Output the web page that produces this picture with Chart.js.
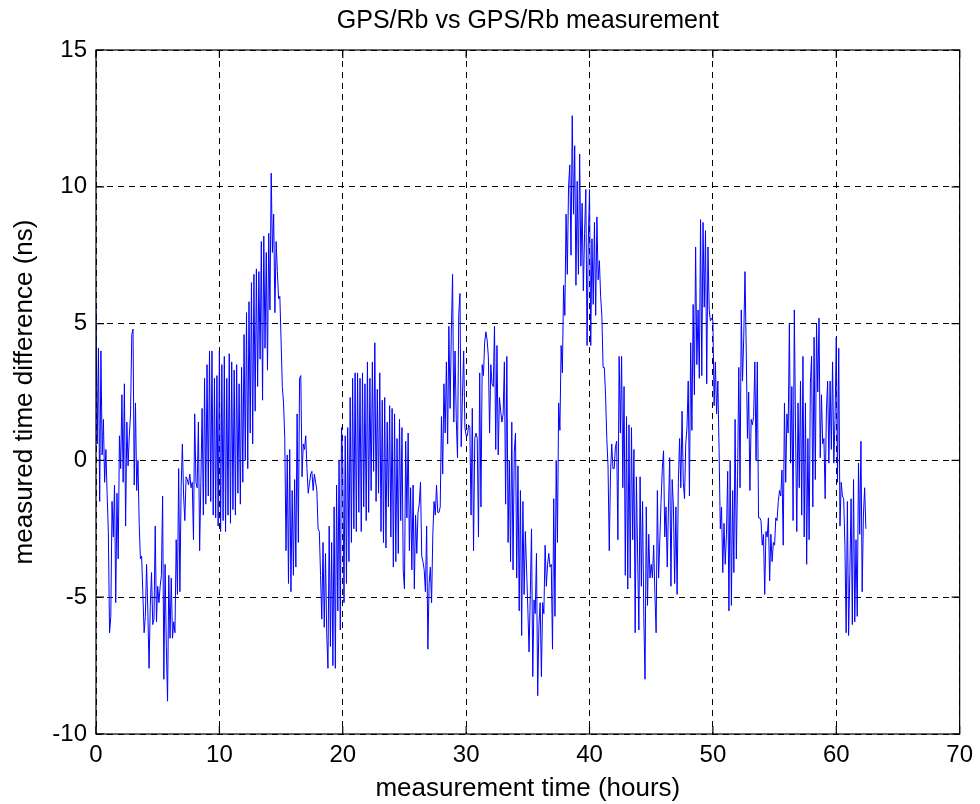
<!DOCTYPE html>
<html>
<head>
<meta charset="utf-8">
<script src="https://cdn.jsdelivr.net/npm/chart.js@4.4.0/dist/chart.umd.min.js"></script>
<style>
  html, body { margin: 0; padding: 0; background: #fff; }
  canvas { display: block; }
</style>
</head>
<body>
<canvas id="grafico" width="980" height="804"></canvas>
<script>
const titulo = 'GPS/Rb vs GPS/Rb measurement';
const rotuloX = 'measurement time (hours)';
const rotuloY = 'measured time difference (ns)';
const ticksX = [0, 10, 20, 30, 40, 50, 60, 70];
const ticksY = [-10, -5, 0, 5, 10, 15];

// uma amostra a cada 0.1 h, uma linha por hora
const passoHoras = 0.1;
const diferencaNs = [
  5.5, 0.6, 4.1, -1.5, 4.0, 0.2, 1.5, -0.8, 0.4, -1.2,
  -2.6, -6.3, -5.7, -1.5, -2.8, -0.9, -5.2, -1.2, -3.6, 0.9,
  -0.3, 2.4, -0.8, 2.8, -2.4, 1.4, -0.2, 0.9, 1.7, 4.6,
  4.8, -0.9, 2.1, -1.1, 0.0, -2.3, -3.6, -3.5, -4.9, -6.3,
  -5.7, -3.8, -5.5, -7.6, -5.3, -4.1, -6.0, -5.8, -2.4, -5.9,
  -4.6, -5.2, -4.6, -4.2, -1.3, -8.0, -3.8, -6.8, -8.8, -4.2,
  -6.5, -4.3, -6.5, -5.9, -6.3, -2.9, -4.9, -0.3, -4.8, -1.0,
  0.6, -1.3, -2.2, -0.6, -0.7, -0.9, -0.5, -1.0, -0.8, -2.9,
  1.7, -0.8, -1.0, 1.4, -3.3, -0.8, 1.9, -2.0, 3.0, -1.6,
  3.5, -1.3, 4.0, -1.5, 4.0, -2.0, 3.0, -2.1, 3.1, -2.4,
  4.0, -2.6, 3.5, -2.2, 3.8, -2.6, 3.0, -2.0, 3.9, -2.3,
  3.6, -1.8, 3.3, -2.0, 3.5, -1.2, 2.8, -1.6, 3.4, -0.8,
  4.6, 0.0, 5.4, -0.3, 5.8, 1.0, 6.5, 0.6, 6.8, 1.8,
  7.0, 2.7, 6.9, 3.7, 8.0, 2.2, 8.2, 4.1, 7.6, 3.3,
  8.3, 5.5, 10.5, 7.6, 9.0, 5.4, 8.0, 6.9, 5.9, 6.0,
  4.4, 2.7, 2.1, 0.8, -3.3, 0.2, -4.5, 0.4, -4.8, -1.1,
  -4.2, -0.7, -3.9, 1.7, -3.0, 3.0, 3.1, -0.6, 0.6, 0.4,
  0.9, -0.3, -1.2, -0.85, -0.5, -0.4, -1.1, -0.5, -0.8, -1.1,
  -2.5, -2.6, -4.2, -5.8, -3.0, -6.1, -3.4, -6.3, -7.6, -2.4,
  -6.8, -3.0, -7.5, -1.7, -7.6, -0.9, -5.5, 0.0, -6.2, 1.2,
  -0.2, -5.2, 0.9, -4.5, 1.2, -3.7, 2.3, -3.0, 3.0, -2.5,
  3.2, -2.6, 3.2, -1.9, 3.0, -2.6, 3.2, -1.7, 2.8, -2.2,
  3.6, -1.9, 3.0, -1.1, 3.6, -0.4, 4.3, -1.5, 2.6, -1.2,
  3.2, -2.6, 2.2, -3.0, 2.3, -3.2, 1.4, -1.7, 2.0, -2.8,
  1.9, -3.9, 1.7, -3.7, 0.8, -3.4, 1.5, -2.2, 1.2, -4.0,
  -4.7, 0.7, -2.1, 1.0, -3.3, -1.0, -4.0, -0.9, -4.7, -2.0,
  -3.4, -1.9, -1.6, -0.8, -3.5, -3.7, -4.0, -4.8, -2.4, -6.9,
  -4.5, -3.9, -5.2, -2.7, -1.5, -2.0, -0.9, -1.9, -1.9, -1.7,
  1.6, -0.5, 2.8, 1.0, 3.6, 0.6, 4.9, 1.9, 4.7, 6.8,
  1.4, 4.0, 1.5, 0.1, 5.3, 6.1, 0.5, 2.3, 4.0, 1.2,
  0.9, 0.9, 1.3, 1.2, -2.0, 1.9, -3.3, 0.8, 1.0, 0.8,
  -2.8, 3.2, -1.7, 3.5, 3.1, 4.3, 4.7, 4.4, 3.8, 1.0,
  3.5, 2.8, 2.7, 4.9, 0.4, 4.2, 0.2, 2.3, 1.8, 1.4,
  1.7, 3.6, -1.6, 3.8, -3.0, 0.0, -3.7, 1.4, -4.0, 0.3,
  1.0, -4.3, -0.2, -5.5, -1.1, -6.4, -1.5, -4.9, -2.6, -4.0,
  -5.4, -7.0, -4.9, -2.5, -7.9, -5.1, -5.6, -3.4, -8.6, -6.0,
  -5.2, -7.9, -5.2, -5.6, -3.1, -4.6, -3.8, -3.4, -3.9, -3.8,
  -6.9, -1.4, -5.7, 0.0, -3.0, 2.1, 1.1, 4.2, 3.2, 6.4,
  5.3, 9.0, 6.8, 10.0, 10.8, 7.5, 12.6, 9.0, 11.5, 6.4,
  10.2, 6.8, 11.2, 7.1, 9.4, 6.2, 8.3, 9.9, 4.2, 8.0,
  9.9, 4.2, 8.1, 5.7, 8.7, 5.3, 8.9, 6.6, 7.3, 6.0,
  5.3, 3.4, 3.4, 2.4, 0.8, -0.2, -3.3, -0.5, 0.6, -0.3,
  -0.3, 0.5, 0.7, -2.9, 3.8, 1.0, 3.8, -1.0, 2.7, -4.2,
  1.6, -4.7, 1.3, -4.3, 1.2, -2.9, 0.4, -6.3, -0.6, -3.5,
  -6.2, -0.6, -4.6, -1.5, -5.7, -8.0, -1.7, -5.3, -2.7, -4.3,
  -3.8, -4.3, -3.1, -4.9, -6.3, -1.1, -4.3, -2.9, -1.5, -0.3,
  0.35, -2.8, -1.7, -3.9, -1.7, 0.1, -4.6, -0.7, -1.7, -4.5,
  -1.7, -4.9, -0.8, 0.8, -1.0, 1.8, -0.8, -1.4, 0.6, 1.2,
  2.9, -1.3, 4.3, 1.1, 5.7, 2.4, 7.8, 3.5, 5.5, 3.0,
  8.8, 3.1, 8.7, 5.6, 8.4, 2.8, 7.8, 5.5, 5.1, 5.2,
  5.1, 2.0, 3.6, 1.7, 2.9, 0.4, -2.5, -1.7, -4.1, -2.3,
  -3.8, -2.7, -0.4, -5.5, 0.0, -5.3, -1.1, -4.1, 1.5, -3.6,
  -0.6, 3.4, -1.0, 5.5, 2.9, 4.5, 6.9, 4.1, 0.8, 2.5,
  -1.1, 1.5, 1.3, 1.6, 3.6, 0.0, 3.6, -2.1, -2.1, -2.2,
  -3.1, -2.7, -4.9, -2.6, -2.8, -2.1, -4.4, -2.7, -3.7, -3.0,
  -3.1, -2.1, -2.2, -1.5, -1.1, -1.3, -0.35, -3.1, 2.1, -0.8,
  1.7, 1.0, 5.0, -0.1, 2.7, -2.2, 5.5, 1.1, -2.6, 2.1,
  -1.0, 2.9, -2.0, 3.8, -2.8, 2.1, -3.8, 0.8, -2.9, 2.8,
  3.8, -1.7, 4.5, -0.7, 5.0, 2.5, 5.2, 0.1, 2.4, 0.6,
  0.8, -1.4, 1.8, 2.9, -0.1, 2.9, 0.4, 3.6, -0.1, 1.5,
  4.5, -0.8, 4.1, -2.4, -0.8, -1.3, -1.4, -3.1, -6.3, -1.5,
  -6.4, -4.1, -1.4, -6.0, -0.7, -5.9, -2.9, -5.7, -0.1, -2.7,
  0.7, -4.8, -2.0, -1.0, -2.5
];
const tempos = diferencaNs.map((_, i) => +(i * passoHoras).toFixed(1));

const fonte = '"Liberation Sans", Arial, sans-serif';

// moldura, ticks para dentro e titulo (estilo matlab)
const moldura = {
  id: 'moldura',
  afterDraw(chart) {
    const { ctx, chartArea: a, scales: { x, y } } = chart;
    ctx.save();
    ctx.strokeStyle = '#000';
    ctx.lineWidth = 1.2;
    ctx.strokeRect(a.left, a.top, a.right - a.left, a.bottom - a.top);
    ctx.beginPath();
    ticksX.forEach(v => {
      const px = x.getPixelForValue(v);
      ctx.moveTo(px, a.bottom); ctx.lineTo(px, a.bottom - 8);
      ctx.moveTo(px, a.top); ctx.lineTo(px, a.top + 8);
    });
    ticksY.forEach(v => {
      const py = y.getPixelForValue(v);
      ctx.moveTo(a.left, py); ctx.lineTo(a.left + 8, py);
      ctx.moveTo(a.right, py); ctx.lineTo(a.right - 8, py);
    });
    ctx.stroke();
    ctx.fillStyle = '#000';
    ctx.font = '25px ' + fonte;
    ctx.textAlign = 'center';
    ctx.textBaseline = 'alphabetic';
    ctx.fillText(titulo, (a.left + a.right) / 2, 28);
    ctx.restore();
  }
};

const ctx = document.getElementById('grafico').getContext('2d');
new Chart(ctx, {
  type: 'line',
  data: {
    datasets: [{
      data: diferencaNs.map((v, i) => ({ x: tempos[i], y: v })),
      borderColor: '#0000ff',
      borderWidth: 1,
      pointRadius: 0,
      tension: 0,
      fill: false
    }]
  },
  options: {
    responsive: false,
    animation: false,
    devicePixelRatio: 1,
    parsing: false,
    layout: { padding: { top: 50, right: 16, bottom: 0, left: 0 } },
    plugins: {
      legend: { display: false },
      tooltip: { enabled: false },
      title: { display: false }
    },
    scales: {
      x: {
        type: 'linear',
        min: 0,
        max: 70,
        afterFit: s => { s.height = 70; },
        afterBuildTicks: s => { s.ticks = ticksX.map(v => ({ value: v })); },
        ticks: { color: '#000', padding: 7, maxRotation: 0, font: { family: fonte, size: 24 } },
        grid: { color: '#000', lineWidth: 1, drawTicks: false },
        border: { display: false, dash: [6, 5] },
        title: {
          display: true,
          text: rotuloX,
          color: '#000',
          font: { family: fonte, size: 26, lineHeight: 1.2 },
          padding: { top: 0, bottom: 0 }
        }
      },
      y: {
        type: 'linear',
        min: -10,
        max: 15,
        afterFit: s => { s.width = 96; },
        afterBuildTicks: s => { s.ticks = ticksY.map(v => ({ value: v })); },
        ticks: { color: '#000', padding: 9, font: { family: fonte, size: 24 } },
        grid: { color: '#000', lineWidth: 1, drawTicks: false },
        border: { display: false, dash: [6, 5] },
        title: {
          display: true,
          text: rotuloY,
          color: '#000',
          font: { family: fonte, size: 26, lineHeight: 1.2 },
          padding: { top: 9, bottom: 0 }
        }
      }
    }
  },
  plugins: [moldura]
});
</script>
</body>
</html>
